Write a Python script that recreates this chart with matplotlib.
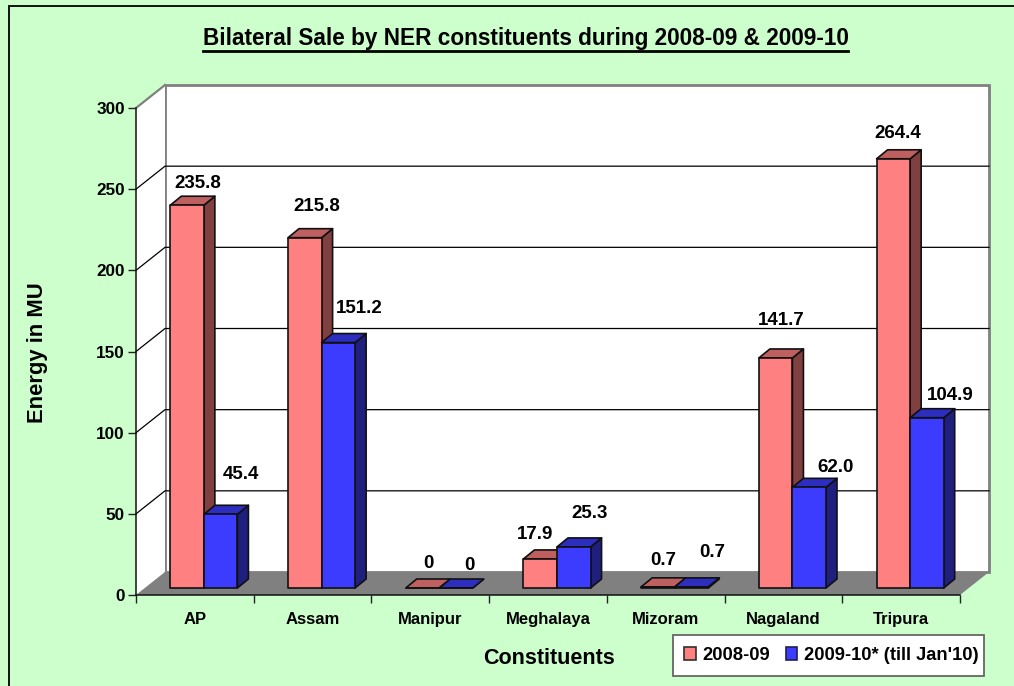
import matplotlib
matplotlib.use("Agg")
import matplotlib.pyplot as plt
from matplotlib.patches import Polygon, Patch, Rectangle
from matplotlib.lines import Line2D
from matplotlib.transforms import Affine2D

plt.rcParams['font.family'] = ['Liberation Sans', 'DejaVu Sans']

# ---- data ----
categories = ['AP', 'Assam', 'Manipur', 'Meghalaya', 'Mizoram', 'Nagaland', 'Tripura']
sale_2008_09 = [235.8, 215.8, 0, 17.9, 0.7, 141.7, 264.4]
sale_2009_10 = [45.4, 151.2, 0, 25.3, 0.7, 62.0, 104.9]
labels_2008_09 = ['235.8', '215.8', '0', '17.9', '0.7', '141.7', '264.4']
labels_2009_10 = ['45.4', '151.2', '0', '25.3', '0.7', '62.0', '104.9']
series_names = ['2008-09', "2009-10* (till Jan'10)"]
y_ticks = [0, 50, 100, 150, 200, 250, 300]

# ---- layout / style ----
W, H, DPI = 1014, 686, 100
nudge_a = [(11, 22), (12, 31), (6, 25), (-5, 24), (5, 26), (6, 37), (4, 25)]
nudge_b = [(20, 40), (21, 34), (13, 23), (16, 33), (21, 34), (26, 20), (23, 22)]
BG = '#CCFFCC'
RED = ('#FF8080', '#804040', '#BF6060')
BLUE = ('#3C3CFF', '#1F1F80', '#2D2DBF')
GRAY = '#808080'
WALL_DX, WALL_DY = 29, 23
BAR_DX, BAR_DY = 11, 9
OFF_DX, OFF_DY = 9, 7
BAR_W = 0.285

fig = plt.figure(figsize=(W / DPI, H / DPI), dpi=DPI, facecolor=BG)
ax = fig.add_axes([136 / W, (H - 595) / H, (960 - 136) / W, (595 - 108) / H])
ax.set_xlim(0, 7)
ax.set_ylim(0, 300)
ax.patch.set_visible(False)


def shift(dx, dy):
    return ax.transData + Affine2D().translate(dx, dy)


def shifted_point(x, y, dx, dy):
    """Data point moved by a depth offset, in display pixels, then back to data."""
    p = ax.transData.transform((x, y)) + (dx, dy)
    return ax.transData.inverted().transform(p)


# outer border of the chart area
fig.add_artist(Rectangle((8.5 / W, -0.1), 1.2, 0.1 + (H - 6) / H, transform=fig.transFigure,
                         fill=False, ec='#111111', lw=1.4))

back = shift(WALL_DX, WALL_DY)
# back wall
ax.add_patch(Polygon([(0, 0), (7, 0), (7, 300), (0, 300)], closed=True, fc='white', ec=GRAY,
                     lw=2, transform=back, clip_on=False, zorder=1))
# left wall
lw_pts = [(0, 0), shifted_point(0, 0, WALL_DX, WALL_DY), shifted_point(0, 300, WALL_DX, WALL_DY), (0, 300)]
ax.add_patch(Polygon(lw_pts, closed=True, fc='white', ec='none', clip_on=False, zorder=1))
ax.plot([lw_pts[3][0], lw_pts[2][0]], [lw_pts[3][1], lw_pts[2][1]], color=GRAY, lw=1.6, clip_on=False, zorder=2)
# floor
fl_pts = [(0, 0), (7, 0), shifted_point(7, 0, WALL_DX, WALL_DY), shifted_point(0, 0, WALL_DX, WALL_DY)]
ax.add_patch(Polygon(fl_pts, closed=True, fc=GRAY, ec='none', clip_on=False, zorder=2))

# gridlines on both walls
for v in y_ticks[1:-1]:
    a = shifted_point(0, v, WALL_DX, WALL_DY)
    b = shifted_point(7, v, WALL_DX, WALL_DY)
    ax.plot([0, a[0], b[0]], [v, a[1], b[1]], color='black', lw=0.9, clip_on=False, zorder=2)


def bar(x0, x1, value, colors, z):
    p = lambda x, y, dx=0, dy=0: shifted_point(x, y, OFF_DX + dx, OFF_DY + dy)
    kw = dict(closed=True, ec='#101010', lw=1.2, joinstyle='round', clip_on=False, zorder=z)
    ax.add_patch(Polygon([p(x1, 0), p(x1, 0, BAR_DX, BAR_DY), p(x1, value, BAR_DX, BAR_DY), p(x1, value)],
                         fc=colors[1], **kw))
    ax.add_patch(Polygon([p(x0, value), p(x1, value), p(x1, value, BAR_DX, BAR_DY), p(x0, value, BAR_DX, BAR_DY)],
                         fc=colors[2], **kw))
    ax.add_patch(Polygon([p(x0, 0), p(x1, 0), p(x1, value), p(x0, value)], fc=colors[0], **kw))


def value_label(x, value, text, nudge):
    p = shifted_point(x, value, OFF_DX, OFF_DY)
    ax.annotate(text, xy=p, xytext=nudge, textcoords='offset pixels', ha='center', va='center',
                fontsize=13.5, fontweight='bold', color='black', annotation_clip=False, zorder=20)


for i, name in enumerate(categories):
    c = i + 0.5
    bar(c - BAR_W, c, sale_2008_09[i], RED, 5)
    bar(c, c + BAR_W, sale_2009_10[i], BLUE, 6)
    value_label(c - BAR_W / 2, sale_2008_09[i], labels_2008_09[i], nudge_a[i])
    value_label(c + BAR_W / 2, sale_2009_10[i], labels_2009_10[i], nudge_b[i])

# axes furniture
for s in ('top', 'right'):
    ax.spines[s].set_visible(False)
for s in ('left', 'bottom'):
    ax.spines[s].set_color('#111111')
    ax.spines[s].set_linewidth(1.1)
    ax.spines[s].set_zorder(4)
ax.set_yticks(y_ticks)
ax.set_xticks(range(8))
ax.set_xticklabels([])
ax.set_xticks([i + 0.5 for i in range(7)], categories, minor=True)
ax.tick_params(axis='y', length=5.5, width=1, labelsize=12.3, pad=2.5, color='#222222')
ax.tick_params(axis='x', which='major', length=5.5, width=1, color='#222222')
ax.tick_params(axis='x', which='minor', length=0, labelsize=12, pad=12)
for t in ax.get_yticklabels() + ax.get_xticklabels(minor=True):
    t.set_fontweight('bold')

# texts
title = fig.text(525.5 / W, (H - 38) / H, 'Bilateral Sale by NER constituents during 2008-09 & 2009-10',
                 ha='center', va='center', fontsize=16.3, fontweight='bold')
fig.text(549 / W, (H - 658) / H, 'Constituents', ha='center', va='center', fontsize=15.5, fontweight='bold')
fig.text(38 / W, (H - 353) / H, 'Energy in MU', ha='center', va='center', rotation=90,
         fontsize=15.8, fontweight='bold')
fig.canvas.draw()
bb = title.get_window_extent(fig.canvas.get_renderer())
fig.add_artist(Line2D([bb.x0 / W, bb.x1 / W], [(H - 50.5) / H] * 2, color='black', lw=2,
                      transform=fig.transFigure))

# legend: frame drawn separately so that its box can be tighter left and right than top and bottom
fig.add_artist(Rectangle((673 / W, (H - 676) / H), (984 - 673) / W, (676 - 635) / H, transform=fig.transFigure,
                         fc='white', ec='#666666', lw=1.3, zorder=8))
handles = [Patch(fc=RED[0], ec='#303030', lw=1.2), Patch(fc=BLUE[0], ec='#202050', lw=1.2)]
leg = fig.legend(handles, series_names, loc='center right', bbox_to_anchor=(978.5 / W, (H - 655.5) / H),
                 bbox_transform=fig.transFigure, ncols=2, frameon=False, borderaxespad=0, borderpad=0,
                 handlelength=0.65, handleheight=0.65, handletextpad=0.35, columnspacing=0.85,
                 prop=dict(size=13.2, weight='bold', family=['Liberation Sans']))
leg.set_zorder(9)

fig.savefig('out.png', dpi=DPI, facecolor=BG)
